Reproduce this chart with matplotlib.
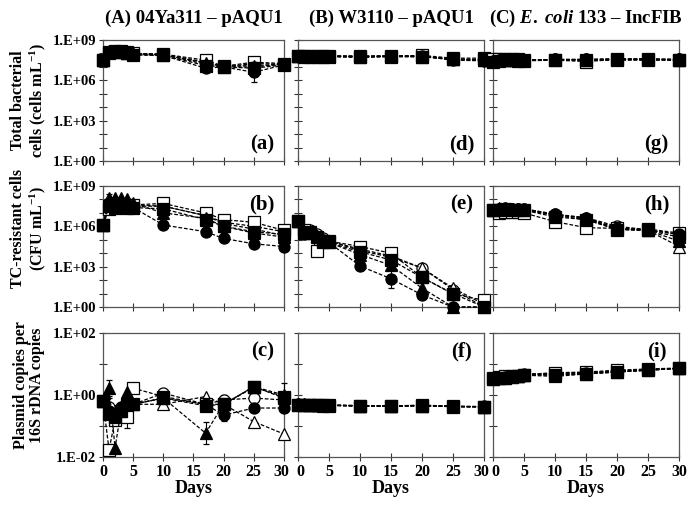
import numpy as np
import matplotlib
matplotlib.use("Agg")
import matplotlib.pyplot as plt
import matplotlib.transforms as mtransforms
from matplotlib.ticker import FixedLocator, FuncFormatter

plt.rcParams["font.family"] = ["Liberation Serif", "DejaVu Serif"]
plt.rcParams["font.weight"] = "bold"
plt.rcParams["mathtext.fontset"] = "custom"
plt.rcParams["mathtext.rm"] = "Liberation Serif:bold"
plt.rcParams["mathtext.bf"] = "Liberation Serif:bold"
plt.rcParams["mathtext.it"] = "Liberation Serif:bold:italic"

# sampling days
days_A = [0, 1, 2, 3, 4, 5, 10, 17, 20, 25, 30]
days_BC = [0, 1, 2, 3, 4, 5, 10, 15, 20, 25, 30]

# series order in every panel: filled circle, open circle, filled triangle,
# open triangle, filled square, open square  (values are log10)
a_log = [[7.5, 8.1, 8.15, 8.1, 8.0, 7.9, 7.85, 6.9, 7.0, 6.6, 7.15],
         [7.5, 8.1, 8.2, 8.1, 8.0, 7.95, 7.9, 7.2, 7.0, 7.0, 7.2],
         [7.5, 8.2, 8.2, 8.15, 8.05, 8.0, 7.9, 7.3, 7.05, 7.1, 7.2],
         [7.5, 8.1, 8.2, 8.1, 8.05, 8.0, 7.95, 7.35, 7.0, 7.25, 7.2],
         [7.5, 8.0, 8.1, 8.1, 8.0, 7.9, 7.85, 7.1, 7.0, 6.9, 7.15],
         [7.5, 8.1, 8.2, 8.2, 8.1, 8.0, 7.95, 7.5, 7.05, 7.35, 7.25]]
b_log = [[6.1, 7.6, 7.5, 7.5, 7.4, 7.4, 6.1, 5.6, 5.1, 4.7, 4.5],
         [6.1, 7.7, 7.7, 7.6, 7.6, 7.5, 7.5, 6.8, 6.3, 6.0, 5.6],
         [6.1, 8.1, 8.1, 8.1, 8.0, 7.7, 7.0, 6.6, 6.0, 5.5, 5.2],
         [6.1, 7.8, 7.9, 7.8, 7.7, 7.6, 7.5, 6.8, 6.2, 5.8, 5.3],
         [6.1, 7.5, 7.4, 7.5, 7.4, 7.4, 7.3, 6.5, 6.0, 5.6, 5.4],
         [6.1, 7.3, 7.6, 7.5, 7.6, 7.6, 7.7, 7.0, 6.5, 6.3, 5.7]]
c_log = [[-0.2, -0.5, -0.6, -0.4, -0.2, -0.3, -0.1, -0.3, -0.65, -0.42, -0.42],
         [-0.2, -0.4, -0.6, -0.5, -0.3, -0.3, 0.06, -0.3, -0.16, -0.1, -0.16],
         [-0.2, 0.22, -1.7, -0.5, 0.1, -0.3, -0.1, -1.23, -0.3, 0.27, 0.0],
         [-0.2, -0.5, -0.7, -0.4, -0.1, -0.3, -0.3, -0.05, -0.3, -0.86, -1.26],
         [-0.2, -0.6, -0.7, -0.5, -0.3, -0.3, -0.1, -0.35, -0.3, 0.25, -0.05],
         [-0.2, -1.77, -0.8, -0.6, -0.7, 0.22, -0.05, -0.3, -0.3, 0.27, -0.1]]
d_log = [[7.8, 7.8, 7.8, 7.8, 7.8, 7.8, 7.75, 7.8, 7.8, 7.5, 7.45],
         [7.8, 7.8, 7.8, 7.8, 7.8, 7.8, 7.8, 7.8, 7.8, 7.55, 7.5],
         [7.8, 7.8, 7.8, 7.8, 7.8, 7.8, 7.75, 7.8, 7.75, 7.55, 7.5],
         [7.8, 7.8, 7.8, 7.8, 7.8, 7.8, 7.8, 7.8, 7.8, 7.55, 7.5],
         [7.8, 7.75, 7.75, 7.75, 7.75, 7.75, 7.7, 7.75, 7.75, 7.6, 7.55],
         [7.8, 7.8, 7.8, 7.8, 7.8, 7.8, 7.8, 7.8, 7.85, 7.65, 7.65]]
e_log = [[6.4, 5.4, 5.5, 5.2, 5.0, 4.8, 3.05, 2.1, 0.9, 0.0, 0.0],
         [6.4, 5.6, 5.7, 5.4, 5.1, 4.9, 4.3, 3.8, 2.9, 1.3, 0.0],
         [6.4, 5.5, 5.6, 5.3, 5.0, 4.8, 3.9, 3.1, 1.4, 0.0, 0.0],
         [6.4, 5.6, 5.6, 5.3, 5.0, 4.9, 4.2, 3.7, 2.9, 1.4, 0.2],
         [6.4, 5.5, 5.5, 5.2, 4.9, 4.8, 4.1, 3.5, 2.2, 1.0, 0.0],
         [6.4, 5.7, 5.6, 4.2, 4.8, 4.9, 4.5, 4.0, 2.2, 0.97, 0.5]]
f_log = [[-0.32, -0.32, -0.33, -0.32, -0.33, -0.33, -0.35, -0.36, -0.35, -0.37, -0.38],
         [-0.3, -0.31, -0.32, -0.32, -0.32, -0.33, -0.34, -0.35, -0.34, -0.36, -0.37],
         [-0.3, -0.3, -0.31, -0.32, -0.32, -0.33, -0.35, -0.36, -0.35, -0.37, -0.38],
         [-0.28, -0.3, -0.31, -0.31, -0.32, -0.33, -0.34, -0.35, -0.34, -0.37, -0.38],
         [-0.33, -0.33, -0.33, -0.33, -0.34, -0.34, -0.36, -0.36, -0.34, -0.38, -0.38],
         [-0.31, -0.32, -0.32, -0.33, -0.33, -0.33, -0.35, -0.36, -0.32, -0.37, -0.38]]
g_log = [[7.45, 7.5, 7.5, 7.5, 7.5, 7.5, 7.55, 7.55, 7.55, 7.55, 7.55],
         [7.5, 7.5, 7.55, 7.55, 7.5, 7.5, 7.55, 7.55, 7.6, 7.6, 7.55],
         [7.45, 7.5, 7.5, 7.5, 7.5, 7.5, 7.55, 7.5, 7.55, 7.55, 7.5],
         [7.5, 7.5, 7.55, 7.5, 7.5, 7.5, 7.55, 7.55, 7.6, 7.6, 7.55],
         [7.4, 7.45, 7.5, 7.5, 7.45, 7.45, 7.5, 7.5, 7.5, 7.5, 7.5],
         [7.55, 7.55, 7.6, 7.6, 7.55, 7.5, 7.5, 7.4, 7.55, 7.55, 7.5]]
h_log = [[7.2, 7.3, 7.3, 7.3, 7.3, 7.3, 6.9, 6.6, 5.9, 5.7, 5.4],
         [7.2, 7.3, 7.35, 7.3, 7.3, 7.3, 6.9, 6.65, 6.0, 5.75, 5.4],
         [7.2, 7.35, 7.4, 7.3, 7.3, 7.25, 6.85, 6.6, 5.8, 5.7, 4.9],
         [7.2, 7.3, 7.3, 7.3, 7.3, 7.25, 6.8, 6.5, 5.8, 5.7, 4.5],
         [7.2, 7.25, 7.3, 7.25, 7.2, 7.2, 6.7, 6.5, 5.75, 5.7, 5.2],
         [7.2, 7.0, 7.1, 7.1, 7.1, 7.0, 6.35, 5.9, 5.85, 5.8, 5.5]]
i_log = [[0.54, 0.56, 0.58, 0.6, 0.62, 0.68, 0.65, 0.7, 0.75, 0.8, 0.86],
         [0.54, 0.55, 0.57, 0.58, 0.6, 0.66, 0.68, 0.72, 0.76, 0.82, 0.86],
         [0.52, 0.55, 0.56, 0.58, 0.6, 0.64, 0.6, 0.68, 0.74, 0.8, 0.86],
         [0.55, 0.57, 0.58, 0.6, 0.62, 0.66, 0.7, 0.72, 0.78, 0.83, 0.86],
         [0.53, 0.55, 0.56, 0.57, 0.6, 0.64, 0.64, 0.68, 0.74, 0.8, 0.86],
         [0.55, 0.57, 0.6, 0.6, 0.62, 0.66, 0.72, 0.74, 0.8, 0.84, 0.87]]

# error bars (log10 half-width): (series, point) -> err
a_err = {(0, 9): 0.75, (2, 9): 0.3, (0, 7): 0.25}
b_err = {(2, 1): 0.3, (0, 7): 0.3, (2, 8): 0.3}
c_err = {(0, 8): 0.2, (1, 8): 0.15, (2, 1): 0.25, (2, 7): 0.35, (5, 4): 0.35,
         (5, 1): 0.2, (2, 10): 0.4, (3, 8): 0.2, (1, 1): 0.3}
d_err = {}
e_err = {(0, 7): 0.7, (2, 6): 0.2}
f_err = {}
g_err = {}
h_err = {(2, 10): 0.35, (5, 1): 0.25, (4, 10): 0.3}
i_err = {(4, 2): 0.1}

col_titles = ["(A) 04Ya311 \u2013 pAQU1", "(B) W3110 \u2013 pAQU1",
              "(C) $\\mathit{E.}$ $\\mathit{coli}$ 133 \u2013 IncFIB"]
row_labels = ["Total bacterial\ncells (cells mL$^{-1}$)",
              "TC-resistant cells\n(CFU mL$^{-1}$)",
              "Plasmid copies per\n16S rDNA copies"]

styles = [("o", "black"), ("o", "white"), ("^", "black"),
          ("^", "white"), ("s", "black"), ("s", "white")]

panels = [[(a_log, a_err, "(a)"), (d_log, d_err, "(d)"), (g_log, g_err, "(g)")],
          [(b_log, b_err, "(b)"), (e_log, e_err, "(e)"), (h_log, h_err, "(h)")],
          [(c_log, c_err, "(c)"), (f_log, f_err, "(f)"), (i_log, i_err, "(i)")]]

W, H = 699, 512
fig = plt.figure(figsize=(W / 100, H / 100), dpi=100)

col_x = [(103, 284), (298, 484), (493, 679)]
row_y = [(40, 161), (186, 307), (333, 457)]
letter_pos = [(0.88, 0.14), (0.88, 0.85), (0.88, 0.85)]


def fmt_exp(v, pos):
    e = int(round(np.log10(v)))
    return "1.E%s%02d" % ("+" if e >= 0 else "-", abs(e))


for r in range(3):
    for c in range(3):
        x0, x1 = col_x[c]
        y0, y1 = row_y[r]
        ax = fig.add_axes([x0 / W, 1 - y1 / H, (x1 - x0) / W, (y1 - y0) / H])
        data, errs, letter = panels[r][c]
        days = days_A if c == 0 else days_BC
        for k, vals in enumerate(data):
            v = np.array(vals)
            e = np.zeros(len(v))
            for (s, p), ev in errs.items():
                if s == k:
                    e[p] = ev
            y = 10 ** v
            yerr = [y - 10 ** (v - e), 10 ** (v + e) - y]
            m, fc = styles[k]
            ax.errorbar(days, y, yerr=yerr, fmt=m, ls="--", dashes=(3, 1.5),
                        color="black", lw=0.9, mfc=fc, mec="black", mew=0.9,
                        ms=8, capsize=2, elinewidth=0.8, clip_on=False,
                        zorder=3 + (k % 2 == 0))
        ax.set_yscale("log")
        ax.set_xlim(0, 30)
        if r < 2:
            ax.set_ylim(1, 1e9)
            ax.yaxis.set_major_locator(FixedLocator([10.0 ** k for k in range(10)]))
            shown = [1, 1e3, 1e6, 1e9]
        else:
            ax.set_ylim(1e-2, 1e2)
            ax.yaxis.set_major_locator(FixedLocator([10.0 ** k for k in range(-2, 3)]))
            shown = [1e-2, 1, 1e2]
        ax.yaxis.set_minor_locator(FixedLocator([]))
        if c == 0:
            ax.yaxis.set_major_formatter(FuncFormatter(
                lambda v, pos, sh=shown: fmt_exp(v, pos)
                if any(abs(np.log10(v) - np.log10(s)) < 1e-6 for s in sh) else ""))
        else:
            ax.set_yticklabels([])
        ax.set_xticks([0, 5, 10, 15, 20, 25, 30])
        if r == 2:
            ax.set_xticklabels(["0", "5", "10", "15", "20", "25", "30"])
            ax.set_xlabel("Days", fontsize=13, fontweight="bold", labelpad=0)
        else:
            ax.set_xticklabels([])
        ax.tick_params(axis="y", direction="inout", length=6, width=0.8,
                       labelsize=10.5, pad=2, colors="#333333", labelcolor="black")
        ax.tick_params(axis="x", direction="inout", length=6, width=0.8,
                       labelsize=11.5, pad=2, colors="#333333", labelcolor="black")
        if r == 2:
            # nudge edge labels so neighbouring "30" and "0" just touch
            labs = ax.get_xticklabels()
            if c > 0:
                labs[0].set_transform(labs[0].get_transform() + mtransforms.ScaledTranslation(2.5 / 100, 0, fig.dpi_scale_trans))
            if c < 2:
                labs[-1].set_transform(labs[-1].get_transform() + mtransforms.ScaledTranslation(-2.5 / 100, 0, fig.dpi_scale_trans))
        for sp in ax.spines.values():
            sp.set_color("#555555")
            sp.set_linewidth(0.9)
        lx, ly = letter_pos[r]
        ax.text(lx, ly, letter, transform=ax.transAxes, ha="center",
                va="center", fontsize=15, fontweight="bold")

for c in range(3):
    x0, x1 = col_x[c]
    fig.text((x0 + x1) / 2 / W, 1 - 18 / H, col_titles[c], ha="center",
             va="center", fontsize=13.5, fontweight="bold")

label_y = [100, 228, 385]
for r in range(3):
    fig.text(29 / W, 1 - label_y[r] / H, row_labels[r], rotation=90,
             ha="center", va="center", fontsize=11.5, fontweight="bold",
             linespacing=1.05)

fig.savefig("out.png", dpi=100)
